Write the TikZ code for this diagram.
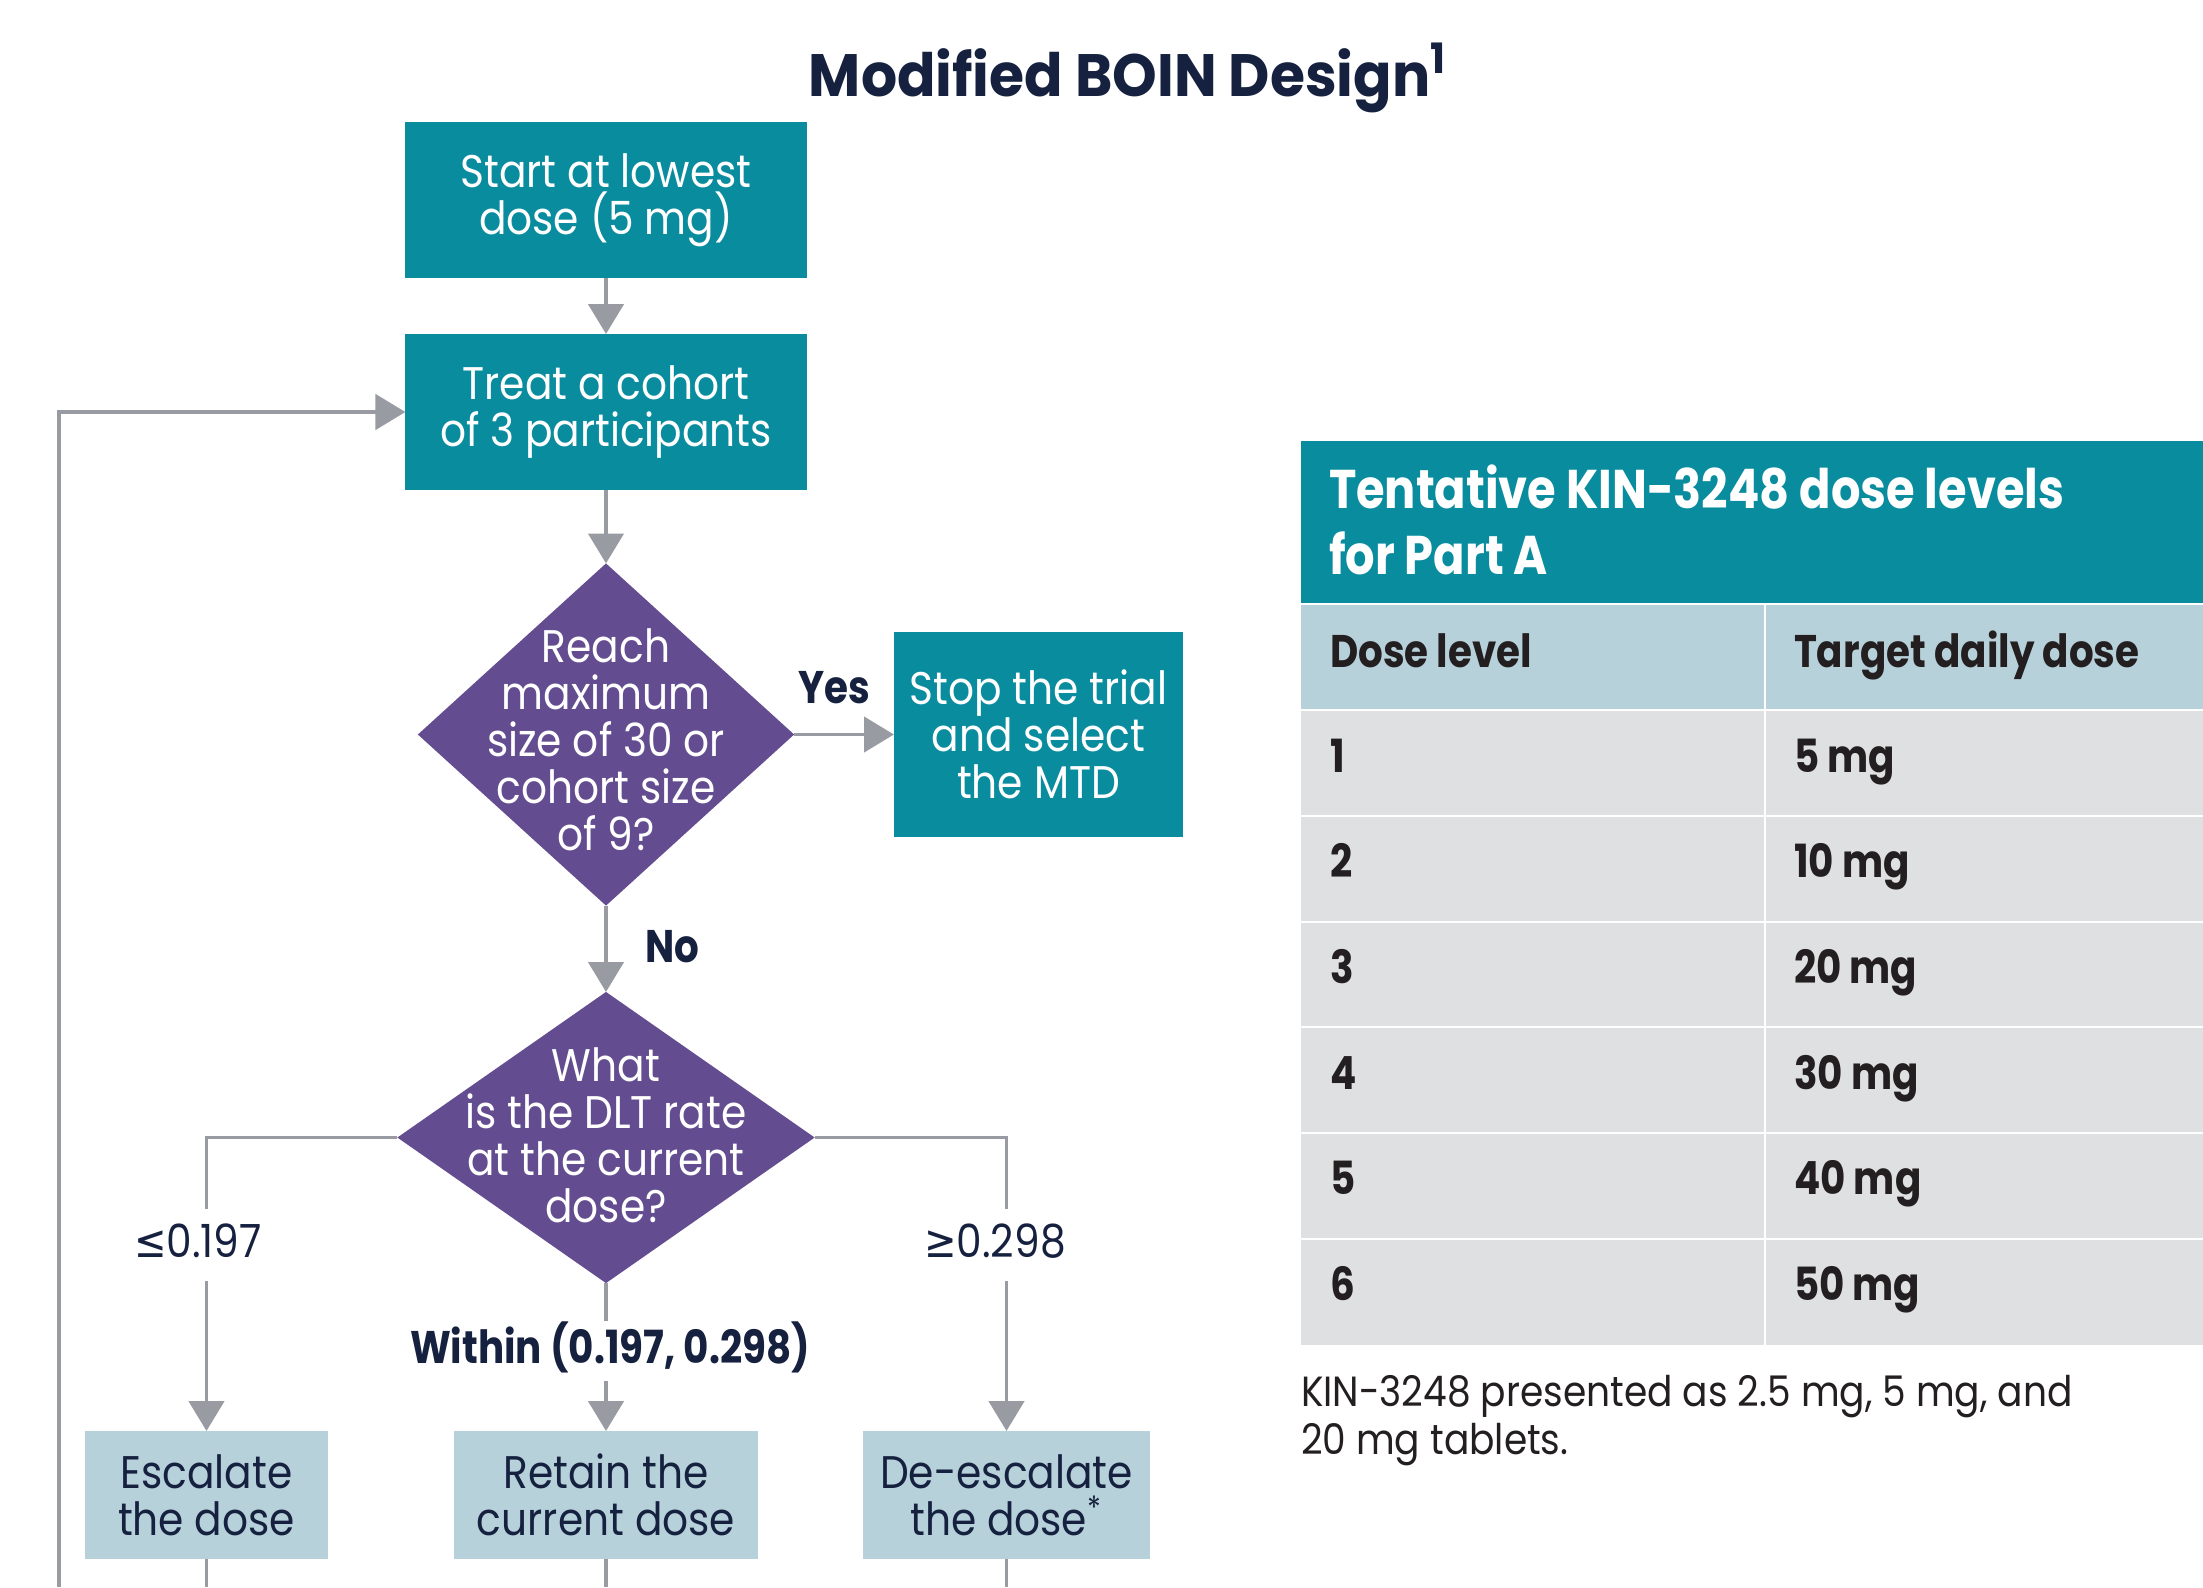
\documentclass[tikz,border=0pt]{standalone}
\usepackage{fontspec}
\setmainfont{Poppins}[UprightFeatures={FakeStretch=0.89}, BoldFeatures={FakeStretch=0.85}]
\newfontfamily\headfont{Poppins}[UprightFeatures={FakeStretch=0.95}, BoldFeatures={FakeStretch=0.95}]
\newfontfamily\symfont{DejaVu Sans}[FakeStretch=0.85]
\usetikzlibrary{arrows.meta,shapes.geometric}

\definecolor{boxteal}{HTML}{0A8C9F}
\definecolor{boxpurple}{HTML}{634C8F}
\definecolor{paleblue}{HTML}{B7D1DA}
\definecolor{rowgray}{HTML}{DFE0E2}
\definecolor{linegray}{HTML}{989BA2}
\definecolor{inknavy}{HTML}{15213F}
\definecolor{inkdark}{HTML}{231F20}

\tikzset{
  every node/.style={inner sep=0pt, outer sep=0pt},
  bodyfont/.style={font=\fontsize{13}{13.4}\selectfont},
  tealbox/.style={rectangle, fill=boxteal, text=white, align=center, bodyfont},
  palebox/.style={rectangle, fill=paleblue, text=inknavy, align=center, bodyfont,
    minimum height=1.28cm},
  decision/.style={diamond, fill=boxpurple},
  dtext/.style={text=white, align=center, bodyfont},
  link/.style={draw=linegray, line width=1.1pt},
  arr/.style={link, -{Triangle[length=8.5pt,width=10pt]}},
  branchlbl/.style={text=inknavy, font=\fontsize{13}{13}\selectfont,
    text height=0.32cm, text depth=0.08cm, anchor=base},
  boldlbl/.style={text=inknavy, font=\fontsize{13}{13}\selectfont\bfseries, anchor=base},
  cellhead/.style={text=inkdark, font=\fontsize{13}{13}\selectfont\bfseries, anchor=base west},
  cell/.style={text=inkdark, font=\fontsize{13}{13}\selectfont\bfseries, anchor=base west},
  tabtitle/.style={text=white, font=\fontsize{15.5}{15.5}\selectfont\bfseries, anchor=base west},
  note/.style={text=inkdark, font=\fontsize{12}{12}\selectfont, anchor=base west},
}

\begin{document}
\begin{tikzpicture}[x=0.01cm, y=-0.01cm]
\useasboundingbox (0,0) rectangle (2203,1587);

% title
\node[text=inknavy, font=\fontsize{17}{17}\headfont\bfseries, anchor=base]
  (title) at (1128,96) {Modified BOIN Design\textsuperscript{1}};

% flowchart nodes
\node[tealbox, minimum width=4.02cm, minimum height=1.56cm] (start) at (606,200)
  {Start at lowest\\dose (5 mg)};
\node[tealbox, minimum width=4.01cm, minimum height=1.56cm] (treat) at (606,412)
  {Treat a cohort\\of 3 participants};
\node[decision, minimum width=3.76cm, minimum height=3.42cm] (maxq) at (606,734.5) {};
\node[dtext] (maxqtext) at (606,740)
  {Reach\\maximum\\size of 30 or\\cohort size\\of 9?};
\node[tealbox, minimum width=2.89cm, minimum height=2.05cm] (stop) at (1038.5,734.5)
  {Stop the trial\\and select\\the MTD};
\node[decision, minimum width=4.17cm, minimum height=2.91cm] (rate) at (606,1137.5) {};
\node[dtext] (ratetext) at (606,1135)
  {What\\is the DLT rate\\at the current\\dose?};
\node[palebox, minimum width=2.43cm] (esc) at (206.5,1495) {Escalate\\the dose};
\node[palebox, minimum width=3.04cm] (ret) at (606,1495) {Retain the\\current dose};
\node[palebox, minimum width=2.87cm] (dea) at (1006.5,1495) {De-escalate\\the dose\textsuperscript{*}};

% branch labels
\node[boldlbl] (yes) at (834,703) {Yes};
\node[boldlbl] (no) at (672,962) {No};
\node[branchlbl, inner ysep=0.16cm] (lo) at (198,1257) {{\symfont ≤}0.197};
\node[branchlbl, inner ysep=0.16cm] (hi) at (995,1257) {{\symfont ≥}0.298};
\node[boldlbl, text height=0.32cm, text depth=0.08cm, inner ysep=0.1cm] (mid) at (610,1363)
  {Within (0.197, 0.298)};

% connectors
\coordinate (floor) at (0,1587);
\coordinate (loopfoot) at (59,1587);
\draw[arr] (start.south) -- (treat.north);
\draw[arr] (treat.south) -- (maxq.north);
\draw[arr] (maxq.east) -- (stop.west);
\draw[arr] (maxq.south) -- (rate.north);
\draw[link] (rate.west) -| (lo.north -| esc.north);
\draw[arr] (lo.south -| esc.north) -- (esc.north);
\draw[link] (rate.east) -| (hi.north -| dea.north);
\draw[arr] (hi.south -| dea.north) -- (dea.north);
\draw[link] (rate.south) -- (mid.north -| ret.north);
\draw[arr] (mid.south -| ret.north) -- (ret.north);
\draw[link] (esc.south) -- (esc.south |- floor);
\draw[link] (ret.south) -- (ret.south |- floor);
\draw[link] (dea.south) -- (dea.south |- floor);
\draw[arr] (loopfoot) |- (treat.west);

% dose level table
\fill[boxteal] (1301,441) rectangle (2203,604);
\fill[paleblue] (1301,604) rectangle (2203,710);
\fill[rowgray] (1301,710) rectangle (2203,1345);
\foreach \yy in {604,710,816,922,1027,1133,1239}
  \draw[white, line width=0.8pt] (1301,\yy) -- (2203,\yy);
\draw[white, line width=0.8pt] (1765,604) -- (1765,1345);

\node[tabtitle] (tt1) at (1329,508) {Tentative KIN-3248 dose levels};
\node[tabtitle] (tt2) at (1329,574) {for Part A};
\node[cellhead] (h1) at (1330,667) {Dose level};
\node[cellhead] (h2) at (1794,667) {Target daily dose};
\foreach \lev/\dose/\yy in {1/5/772, 2/10/877, 3/20/983, 4/30/1089, 5/40/1194, 6/50/1300} {
  \node[cell] (lev\lev) at (1330,\yy) {\lev};
  \node[cell] (dose\lev) at (1794,\yy) {\dose\ mg};
}

% footnote
\node[note] (fn1) at (1301,1406) {KIN-3248 presented as 2.5 mg, 5 mg, and};
\node[note] (fn2) at (1301,1454) {20 mg tablets.};
\end{tikzpicture}
\end{document}
